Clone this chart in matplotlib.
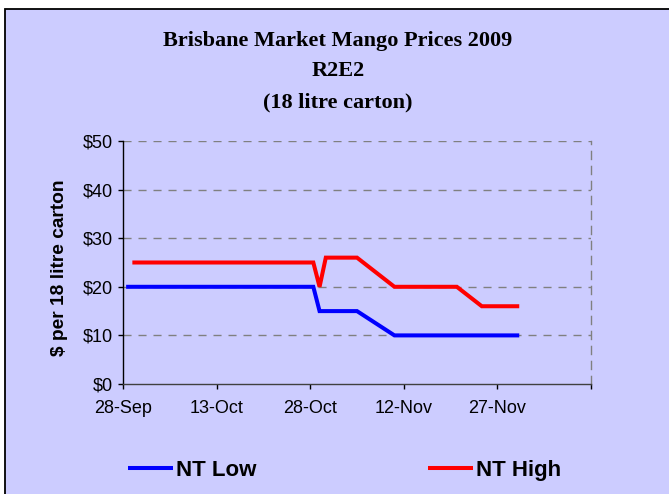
import matplotlib
matplotlib.use("Agg")
import matplotlib.pyplot as plt
import matplotlib.dates as mdates
from matplotlib.patches import Rectangle
import numpy as np
import datetime as dt

# ---- data ----
dates = ["2009-09-28", "2009-09-29", "2009-10-28", "2009-10-29", "2009-10-30",
         "2009-11-04", "2009-11-10", "2009-11-20", "2009-11-24", "2009-11-27",
         "2009-11-30"]
nt_low = [20, 20, 20, 15, 15, 15, 10, 10, 10, 10, 10]
nt_high = [np.nan, 25, 25, 20, 26, 26, 20, 20, 16, 16, 16]

tick_dates = ["2009-09-28", "2009-10-13", "2009-10-28", "2009-11-12",
              "2009-11-27", "2009-12-12"]
tick_labels = ["28-Sep", "13-Oct", "28-Oct", "12-Nov", "27-Nov", ""]
y_ticks = [0, 10, 20, 30, 40, 50]
y_labels = ["$0", "$10", "$20", "$30", "$40", "$50"]
title_lines = ["Brisbane Market Mango Prices 2009", "R2E2", "(18 litre carton)"]
ylabel = "$ per 18 litre carton"
series_names = ["NT Low", "NT High"]

W, H = 669, 494
BG = "#CCCCFF"

fig = plt.figure(figsize=(W / 100, H / 100), dpi=100)
fig.patch.set_facecolor("white")
fig.add_artist(Rectangle((4.5 / W, -0.05), 1.1, (H - 8.5) / H + 0.05,
                         transform=fig.transFigure, facecolor=BG,
                         edgecolor="black", lw=1.3, zorder=-10))

ax = fig.add_axes([123 / W, 110 / H, (591 - 123) / W, (384 - 141) / H])
ax.set_facecolor(BG)

x = [mdates.date2num(dt.datetime.strptime(d, "%Y-%m-%d")) for d in dates]
xt = [mdates.date2num(dt.datetime.strptime(d, "%Y-%m-%d")) - 0.5 for d in tick_dates]

ax.plot(x, nt_low, color="#0000FF", lw=2.9, solid_joinstyle="miter",
        solid_capstyle="butt", label=series_names[0], zorder=3)
ax.plot(x, nt_high, color="#FF0000", lw=2.9, solid_joinstyle="miter",
        solid_capstyle="butt", label=series_names[1], zorder=3)

ax.set_xlim(xt[0], xt[-1])
ax.set_ylim(y_ticks[0], y_ticks[-1])
ax.set_xticks(xt)
ax.set_xticklabels(tick_labels)
ax.set_yticks(y_ticks)
ax.set_yticklabels(y_labels)

dash = (0, (5.8, 5.0))
for v in y_ticks[1:]:
    ax.axhline(v, color="#808080", lw=1.0, linestyle=dash, zorder=1)

ax.spines["top"].set_visible(False)
ax.spines["right"].set_color("#808080")
ax.spines["right"].set_linestyle(dash)
ax.spines["right"].set_linewidth(1.0)
ax.spines["left"].set_color("black")
ax.spines["left"].set_linewidth(1.0)
ax.spines["bottom"].set_color("#404040")
ax.spines["bottom"].set_linewidth(1.0)

ax.tick_params(axis="both", direction="out", length=3.6, width=1.0,
               labelsize=13, labelcolor="black")
ax.tick_params(axis="x", pad=8)
ax.tick_params(axis="y", pad=4)
for lab in ax.get_xticklabels() + ax.get_yticklabels():
    lab.set_fontfamily("Liberation Sans")

ys = [40.6, 70.5, 102.6]
for t, yy in zip(title_lines, ys):
    fig.text(338 / W, 1 - yy / H, t, ha="center", va="center",
             fontfamily="Liberation Serif", fontweight="bold", fontsize=16)

fig.text(60 / W, 1 - 267.5 / H, ylabel, rotation=90, ha="center", va="center",
         fontfamily="Liberation Sans", fontweight="bold", fontsize=13.8)

fs = 16
em = fs * 100 / 72
leg = fig.legend(loc="center left", bbox_to_anchor=(117 / W, 1 - 470 / H),
                 ncol=2, frameon=False, borderpad=0,
                 handlelength=45 / em, handletextpad=0.12,
                 columnspacing=172 / em,
                 prop={"family": "Liberation Sans", "weight": "bold", "size": fs})

fig.savefig("out.png", dpi=100, facecolor=fig.get_facecolor())
